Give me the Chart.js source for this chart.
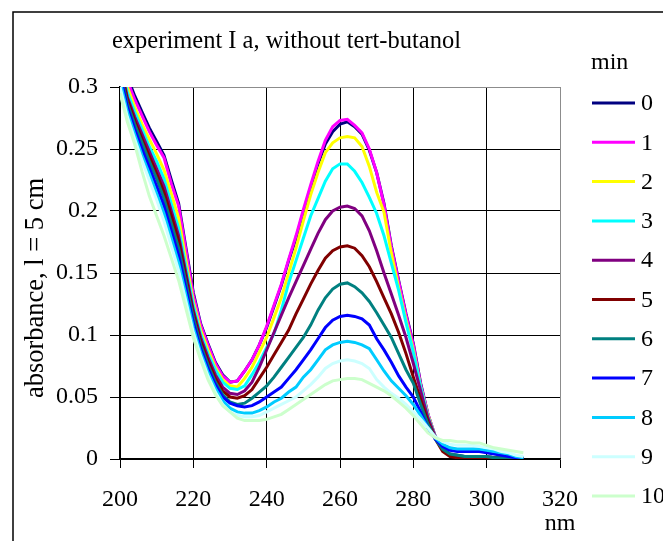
<!DOCTYPE html>
<html>
<head>
<meta charset="utf-8">
<script src="https://cdn.jsdelivr.net/npm/chart.js@4.4.1/dist/chart.umd.min.js"></script>
<style>
  html, body { margin: 0; padding: 0; background: #fff; }
  #wrap { width: 663px; height: 541px; }
</style>
</head>
<body>
<div id="wrap"><canvas id="spectraChart" width="663" height="541"></canvas></div>
<script>
// wavelength grid, nm
const wavelengths = [
    200, 202, 204, 206, 208, 210, 212, 214, 216, 218,
    220, 222, 224, 226, 228, 230, 232, 234, 236, 238,
    240, 242, 244, 246, 248, 250, 252, 254, 256, 258,
    260, 262, 264, 266, 268, 270, 272, 274, 276, 278,
    280, 282, 284, 286, 288, 290, 292, 294, 296, 298,
    300, 302, 304, 306, 308, 310
];

// absorbance per minute
const abs0 = [
    0.335, 0.308, 0.293, 0.280, 0.267, 0.256, 0.245, 0.225, 0.206, 0.170,
    0.134, 0.109, 0.093, 0.078, 0.068, 0.062, 0.063, 0.071, 0.080, 0.092,
    0.106, 0.123, 0.140, 0.160, 0.178, 0.199, 0.219, 0.238, 0.254, 0.264,
    0.270, 0.272, 0.268, 0.262, 0.249, 0.231, 0.206, 0.172, 0.144, 0.117,
    0.093, 0.061, 0.036, 0.018, 0.008, 0.003, 0.002, 0.002, 0.002, 0.002,
    0.002, 0.001, 0.001, 0.001, 0.001, 0.000
];
const abs1 = [
    0.330, 0.305, 0.290, 0.277, 0.264, 0.253, 0.243, 0.222, 0.204, 0.168,
    0.132, 0.108, 0.092, 0.077, 0.067, 0.062, 0.063, 0.071, 0.080, 0.092,
    0.107, 0.124, 0.141, 0.161, 0.180, 0.201, 0.221, 0.240, 0.257, 0.268,
    0.273, 0.274, 0.269, 0.263, 0.250, 0.231, 0.205, 0.171, 0.143, 0.116,
    0.092, 0.060, 0.036, 0.018, 0.008, 0.003, 0.002, 0.002, 0.002, 0.002,
    0.002, 0.001, 0.001, 0.001, 0.000, 0.000
];
const abs2 = [
    0.325, 0.300, 0.284, 0.270, 0.258, 0.246, 0.233, 0.214, 0.194, 0.160,
    0.127, 0.104, 0.088, 0.074, 0.064, 0.059, 0.058, 0.065, 0.074, 0.086,
    0.098, 0.114, 0.130, 0.150, 0.170, 0.192, 0.213, 0.231, 0.247, 0.255,
    0.259, 0.260, 0.259, 0.252, 0.236, 0.215, 0.199, 0.166, 0.138, 0.112,
    0.088, 0.058, 0.035, 0.018, 0.008, 0.003, 0.002, 0.002, 0.002, 0.002,
    0.002, 0.001, 0.001, 0.001, 0.000, 0.000
];
const abs3 = [
    0.320, 0.296, 0.280, 0.266, 0.252, 0.240, 0.226, 0.206, 0.186, 0.155,
    0.124, 0.101, 0.085, 0.072, 0.062, 0.057, 0.056, 0.059, 0.068, 0.078,
    0.090, 0.101, 0.120, 0.142, 0.160, 0.178, 0.196, 0.210, 0.224, 0.234,
    0.238, 0.238, 0.232, 0.223, 0.211, 0.198, 0.180, 0.158, 0.136, 0.110,
    0.086, 0.058, 0.034, 0.018, 0.009, 0.004, 0.003, 0.002, 0.002, 0.002,
    0.002, 0.001, 0.001, 0.001, 0.000, 0.000
];
const abs4 = [
    0.318, 0.292, 0.276, 0.262, 0.248, 0.234, 0.220, 0.200, 0.180, 0.150,
    0.120, 0.098, 0.082, 0.068, 0.058, 0.053, 0.052, 0.055, 0.062, 0.074,
    0.088, 0.102, 0.116, 0.130, 0.143, 0.156, 0.169, 0.182, 0.193, 0.200,
    0.203, 0.204, 0.202, 0.196, 0.184, 0.168, 0.150, 0.133, 0.116, 0.098,
    0.077, 0.055, 0.033, 0.018, 0.008, 0.004, 0.003, 0.002, 0.002, 0.002,
    0.002, 0.001, 0.001, 0.001, 0.000, 0.000
];
const abs5 = [
    0.315, 0.290, 0.273, 0.258, 0.244, 0.230, 0.215, 0.196, 0.176, 0.146,
    0.117, 0.095, 0.079, 0.065, 0.055, 0.050, 0.049, 0.051, 0.056, 0.065,
    0.074, 0.084, 0.094, 0.104, 0.117, 0.129, 0.141, 0.152, 0.162, 0.168,
    0.171, 0.172, 0.170, 0.164, 0.155, 0.143, 0.130, 0.117, 0.102, 0.085,
    0.066, 0.048, 0.030, 0.016, 0.006, 0.002, 0.001, 0.001, 0.001, 0.001,
    0.001, 0.001, 0.001, 0.000, 0.000, 0.000
];
const abs6 = [
    0.312, 0.287, 0.270, 0.255, 0.240, 0.226, 0.210, 0.190, 0.170, 0.142,
    0.114, 0.092, 0.076, 0.062, 0.052, 0.046, 0.044, 0.045, 0.049, 0.054,
    0.059, 0.066, 0.074, 0.082, 0.090, 0.098, 0.108, 0.120, 0.130, 0.137,
    0.141, 0.142, 0.139, 0.134, 0.127, 0.118, 0.108, 0.098, 0.085, 0.072,
    0.061, 0.044, 0.028, 0.016, 0.008, 0.004, 0.003, 0.002, 0.002, 0.002,
    0.002, 0.001, 0.001, 0.001, 0.000, 0.000
];
const abs7 = [
    0.310, 0.284, 0.266, 0.250, 0.235, 0.220, 0.204, 0.184, 0.164, 0.137,
    0.110, 0.089, 0.073, 0.060, 0.050, 0.045, 0.043, 0.042, 0.043, 0.046,
    0.050, 0.054, 0.058, 0.065, 0.072, 0.080, 0.088, 0.097, 0.106, 0.112,
    0.115, 0.116, 0.115, 0.113, 0.108, 0.097, 0.088, 0.078, 0.067, 0.058,
    0.050, 0.038, 0.025, 0.016, 0.010, 0.007, 0.006, 0.006, 0.006, 0.006,
    0.005, 0.004, 0.003, 0.002, 0.001, 0.000
];
const abs8 = [
    0.305, 0.280, 0.262, 0.245, 0.230, 0.214, 0.198, 0.178, 0.158, 0.132,
    0.106, 0.086, 0.070, 0.057, 0.047, 0.041, 0.038, 0.037, 0.037, 0.039,
    0.042, 0.046, 0.049, 0.054, 0.058, 0.066, 0.072, 0.080, 0.088, 0.092,
    0.094, 0.095, 0.094, 0.092, 0.089, 0.080, 0.071, 0.063, 0.057, 0.051,
    0.044, 0.035, 0.025, 0.017, 0.012, 0.009, 0.008, 0.008, 0.008, 0.008,
    0.007, 0.006, 0.005, 0.004, 0.002, 0.001
];
const abs9 = [
    0.300, 0.276, 0.258, 0.241, 0.225, 0.209, 0.192, 0.172, 0.152, 0.127,
    0.102, 0.083, 0.067, 0.054, 0.044, 0.038, 0.035, 0.034, 0.034, 0.035,
    0.038, 0.041, 0.044, 0.047, 0.050, 0.055, 0.060, 0.066, 0.073, 0.077,
    0.079, 0.080, 0.079, 0.077, 0.073, 0.064, 0.058, 0.053, 0.049, 0.044,
    0.038, 0.032, 0.025, 0.018, 0.014, 0.012, 0.011, 0.011, 0.011, 0.010,
    0.009, 0.008, 0.006, 0.005, 0.003, 0.002
];
const abs10 = [
    0.295, 0.272, 0.254, 0.232, 0.212, 0.196, 0.180, 0.162, 0.144, 0.121,
    0.098, 0.080, 0.064, 0.052, 0.043, 0.038, 0.033, 0.031, 0.031, 0.031,
    0.032, 0.034, 0.036, 0.040, 0.044, 0.048, 0.052, 0.056, 0.060, 0.063,
    0.064, 0.065, 0.065, 0.064, 0.061, 0.058, 0.055, 0.051, 0.046, 0.041,
    0.035, 0.028, 0.021, 0.017, 0.015, 0.015, 0.014, 0.014, 0.013, 0.013,
    0.011, 0.009, 0.008, 0.007, 0.006, 0.005
];

const seriesLabels = ['0', '1', '2', '3', '4', '5', '6', '7', '8', '9', '10'];
const seriesValues = [abs0, abs1, abs2, abs3, abs4, abs5, abs6, abs7, abs8, abs9, abs10];
const seriesColors = ['#000080', '#FF00FF', '#FFFF00', '#00FFFF', '#800080', '#800000',
                      '#008080', '#0000FF', '#00CCFF', '#CCFFFF', '#CCFFCC'];

const xTicks = [200, 220, 240, 260, 280, 300, 320];
const yTicks = [0, 0.05, 0.1, 0.15, 0.2, 0.25, 0.3];

const chartTitle = 'experiment I a, without tert-butanol';
const xTitle = 'nm';
const yTitle = 'absorbance, l = 5 cm';
const legendTitle = 'min';

const serif = '"Liberation Serif", "Times New Roman", serif';
Chart.defaults.font.family = serif;
Chart.defaults.font.size = 24;
Chart.defaults.color = '#000';

// frame, title, axis titles and the legend
const decorations = {
    id: 'decorations',
    beforeDraw(chart) {
        const c = chart.ctx;
        c.save();
        c.fillStyle = '#fff';
        c.fillRect(0, 0, chart.width, chart.height);
        c.strokeStyle = '#000';
        c.lineWidth = 1.5;
        c.beginPath();
        c.moveTo(13, chart.height);
        c.lineTo(13, 12);
        c.lineTo(chart.width, 12);
        c.stroke();
        c.restore();
    },
    afterDraw(chart) {
        const c = chart.ctx;
        c.save();
        c.fillStyle = '#000';
        c.font = '24.5px ' + serif;
        c.textBaseline = 'alphabetic';
        c.textAlign = 'left';
        c.fillText(chartTitle, 112, 48);

        c.font = '24px ' + serif;
        c.textAlign = 'center';
        c.fillText(xTitle, 560, 530);

        c.save();
        c.font = '26.5px ' + serif;
        c.translate(43, 288);
        c.rotate(-Math.PI / 2);
        c.fillText(yTitle, 0, 0);
        c.restore();

        // legend
        c.font = '24px ' + serif;
        c.textAlign = 'left';
        c.textBaseline = 'middle';
        c.fillText(legendTitle, 591, 63);
        chart.data.datasets.forEach((ds, i) => {
            const y = 103 + i * 39.3;
            c.strokeStyle = ds.borderColor;
            c.lineWidth = 3;
            c.beginPath();
            c.moveTo(592, y);
            c.lineTo(635, y);
            c.stroke();
            c.fillStyle = '#000';
            c.fillText(ds.label, 641, y + 1);
        });
        c.restore();
    }
};

const datasets = seriesValues.map((vals, i) => ({
    label: seriesLabels[i],
    data: wavelengths.map((w, j) => ({x: w, y: vals[j]})),
    borderColor: seriesColors[i],
    backgroundColor: seriesColors[i],
    borderWidth: 3,
    pointRadius: 0,
    tension: 0,
    fill: false,
    order: seriesValues.length - i
}));

new Chart(document.getElementById('spectraChart'), {
    type: 'line',
    data: {datasets},
    options: {
        responsive: false,
        animation: false,
        layout: {padding: {left: 0, top: 87, right: 103, bottom: 0}},
        plugins: {
            legend: {display: false},
            title: {display: false},
            tooltip: {enabled: false}
        },
        scales: {
            x: {
                type: 'linear',
                min: xTicks[0],
                max: xTicks[xTicks.length - 1],
                afterFit: s => { s.height = 82; },
                afterBuildTicks: s => { s.ticks = xTicks.map(v => ({value: v})); },
                ticks: {padding: 17, maxRotation: 0, autoSkip: false},
                grid: {
                    color: ctx => (ctx.tick && ctx.tick.value === 320) ? '#8c8c8c' : '#000',
                    lineWidth: 1,
                    tickColor: '#000',
                    tickLength: 9
                },
                border: {color: '#000', width: 1.5}
            },
            y: {
                min: yTicks[0],
                max: yTicks[yTicks.length - 1],
                afterFit: s => { s.width = 120; },
                afterBuildTicks: s => { s.ticks = yTicks.map(v => ({value: v})); },
                ticks: {
                    padding: 12,
                    autoSkip: false,
                    callback: v => String(+v.toFixed(2))
                },
                grid: {
                    color: ctx => (ctx.tick && Math.abs(ctx.tick.value - 0.3) < 1e-9) ? '#8c8c8c' : '#000',
                    lineWidth: 1,
                    tickColor: '#000',
                    tickLength: 10
                },
                border: {color: '#000', width: 1.5}
            }
        }
    },
    plugins: [decorations]
});
</script>
</body>
</html>
